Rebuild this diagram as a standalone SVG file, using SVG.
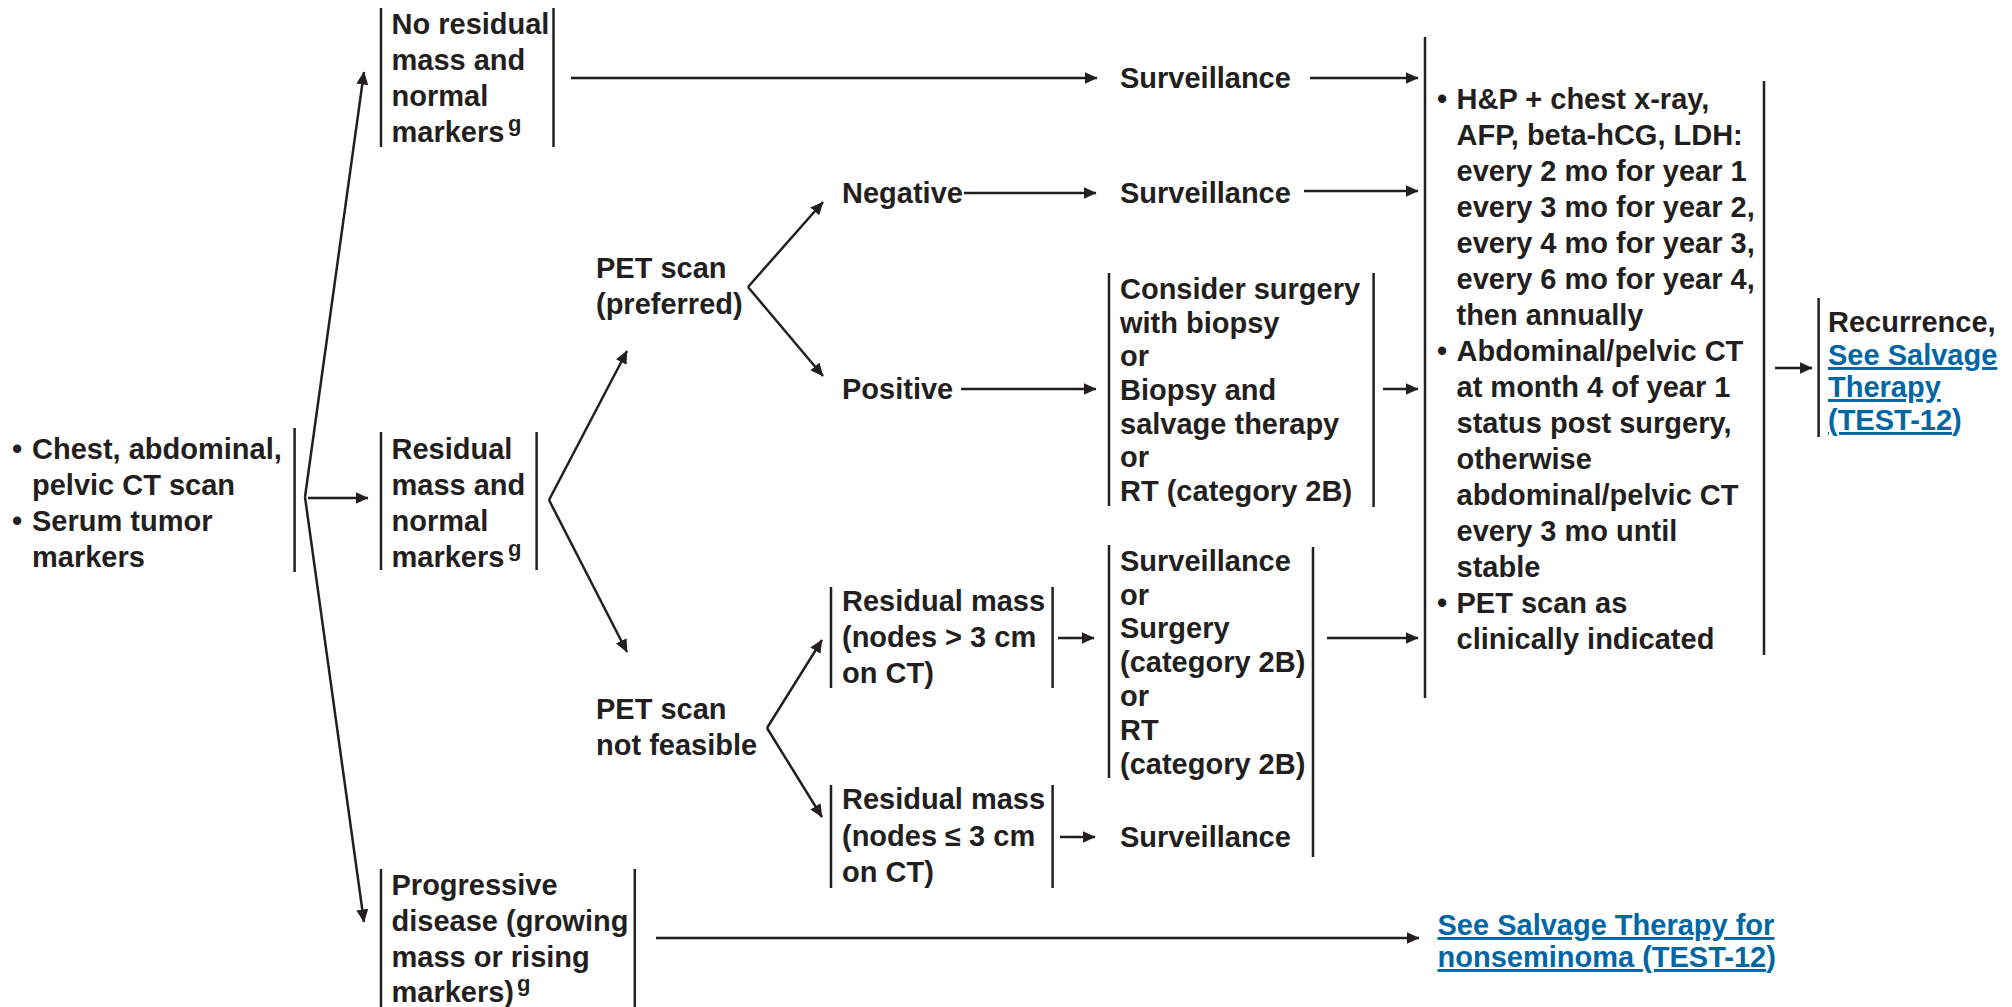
<svg xmlns="http://www.w3.org/2000/svg" width="2012" height="1007" viewBox="0 0 2012 1007">
<style>
text{font-family:"Liberation Sans",Arial,Helvetica,sans-serif;font-weight:bold;font-size:29px;fill:#231f20}
.sup{font-size:22px}
.link{fill:#0066a4}
.u{text-decoration:underline}
.bar{stroke:#231f20;stroke-width:2.5;fill:none}
.c{stroke:#231f20;stroke-width:2.5;fill:none;marker-end:url(#ah)}
</style>
<defs>
<marker id="ah" markerUnits="userSpaceOnUse" markerWidth="14" markerHeight="13" refX="12.5" refY="6" orient="auto">
<path d="M0,0 L13,6 L0,12 z" fill="#231f20"/>
</marker>
</defs>
<rect width="2012" height="1007" fill="#fff"/>

<g id="connectors">
<path class="c" d="M305,497 L364,72"/>
<path class="c" d="M305,497 L364,922"/>
<path class="c" d="M308,498 L368,498"/>
<path class="c" d="M549,500 L627,351"/>
<path class="c" d="M549,500 L627,652"/>
<path class="c" d="M748,287 L823,202"/>
<path class="c" d="M748,287 L823,376"/>
<path class="c" d="M571,78 L1097,78"/>
<path class="c" d="M964,193 L1096,193"/>
<path class="c" d="M961,389 L1096,389"/>
<path class="c" d="M1310,78 L1418,78"/>
<path class="c" d="M1304,191 L1418,191"/>
<path class="c" d="M1383,389 L1418,389"/>
<path class="c" d="M1327,638 L1418,638"/>
<path class="c" d="M1775,368 L1812,368"/>
<path class="c" d="M767,728 L822,640"/>
<path class="c" d="M767,728 L822,817"/>
<path class="c" d="M1058,638 L1094,638"/>
<path class="c" d="M1060,837 L1095,837"/>
<path class="c" d="M656,938 L1419,938"/>
</g>

<g id="start">
<line class="bar" x1="294.6" y1="428" x2="294.6" y2="572"/>
<text x="12" y="459">•</text>
<text x="32" y="459">Chest, abdominal,</text>
<text x="32" y="495">pelvic CT scan</text>
<text x="12" y="531">•</text>
<text x="32" y="531">Serum tumor</text>
<text x="32" y="567">markers</text>
</g>

<g id="no-residual">
<line class="bar" x1="381" y1="8" x2="381" y2="147"/>
<line class="bar" x1="553.5" y1="8" x2="553.5" y2="147"/>
<text x="391.5" y="34">No residual</text>
<text x="391.5" y="70">mass and</text>
<text x="391.5" y="106">normal</text>
<text x="391.5" y="142">markers</text>
<text class="sup" x="508" y="131">g</text>
</g>

<g id="residual">
<line class="bar" x1="381" y1="432" x2="381" y2="570"/>
<line class="bar" x1="536.6" y1="432" x2="536.6" y2="570"/>
<text x="391.5" y="459">Residual</text>
<text x="391.5" y="495">mass and</text>
<text x="391.5" y="531">normal</text>
<text x="391.5" y="567">markers</text>
<text class="sup" x="508" y="556">g</text>
</g>

<g id="progressive">
<line class="bar" x1="381" y1="869" x2="381" y2="1007"/>
<line class="bar" x1="634.8" y1="869" x2="634.8" y2="1007"/>
<text x="391.5" y="895">Progressive</text>
<text x="391.5" y="931">disease (growing</text>
<text x="391.5" y="967">mass or rising</text>
<text x="391.5" y="1002">markers)</text>
<text class="sup" x="517" y="991">g</text>
</g>

<g id="surveillance-1">
<text x="1120" y="88">Surveillance</text>
</g>

<g id="pet-preferred">
<text x="596" y="278">PET scan</text>
<text x="596" y="314">(preferred)</text>
</g>

<g id="negative">
<text x="842" y="203">Negative</text>
</g>

<g id="surveillance-2">
<text x="1120" y="203">Surveillance</text>
</g>

<g id="positive">
<text x="842" y="399">Positive</text>
</g>

<g id="consider">
<line class="bar" x1="1109" y1="273" x2="1109" y2="506"/>
<line class="bar" x1="1373.6" y1="273" x2="1373.6" y2="507"/>
<text x="1120" y="299">Consider surgery</text>
<text x="1120" y="333">with biopsy</text>
<text x="1120" y="366">or</text>
<text x="1120" y="400">Biopsy and</text>
<text x="1120" y="434">salvage therapy</text>
<text x="1120" y="467">or</text>
<text x="1120" y="501">RT (category 2B)</text>
</g>

<g id="pet-not-feasible">
<text x="596" y="719">PET scan</text>
<text x="596" y="755">not feasible</text>
</g>

<g id="residual-gt3">
<line class="bar" x1="831" y1="587" x2="831" y2="688"/>
<line class="bar" x1="1052.6" y1="587" x2="1052.6" y2="688"/>
<text x="842" y="611">Residual mass</text>
<text x="842" y="647">(nodes &gt; 3 cm</text>
<text x="842" y="683">on CT)</text>
</g>

<g id="residual-le3">
<line class="bar" x1="831" y1="785" x2="831" y2="888"/>
<line class="bar" x1="1052.6" y1="785" x2="1052.6" y2="888"/>
<text x="842" y="809">Residual mass</text>
<text x="842" y="846">(nodes ≤ 3 cm</text>
<text x="842" y="882">on CT)</text>
</g>

<g id="options">
<line class="bar" x1="1109" y1="545" x2="1109" y2="778"/>
<line class="bar" x1="1313" y1="547" x2="1313" y2="857"/>
<text x="1120" y="571">Surveillance</text>
<text x="1120" y="605">or</text>
<text x="1120" y="638">Surgery</text>
<text x="1120" y="672">(category 2B)</text>
<text x="1120" y="706">or</text>
<text x="1120" y="740">RT</text>
<text x="1120" y="774">(category 2B)</text>
<text x="1120" y="847">Surveillance</text>
</g>

<g id="followup">
<line class="bar" x1="1425" y1="37" x2="1425" y2="698"/>
<line class="bar" x1="1764" y1="81" x2="1764" y2="655"/>
<text x="1437" y="109">•</text>
<text x="1456.5" y="109">H&amp;P + chest x-ray,</text>
<text x="1456.5" y="145">AFP, beta-hCG, LDH:</text>
<text x="1456.5" y="181">every 2 mo for year 1</text>
<text x="1456.5" y="217">every 3 mo for year 2,</text>
<text x="1456.5" y="253">every 4 mo for year 3,</text>
<text x="1456.5" y="289">every 6 mo for year 4,</text>
<text x="1456.5" y="325">then annually</text>
<text x="1437" y="361">•</text>
<text x="1456.5" y="361">Abdominal/pelvic CT</text>
<text x="1456.5" y="397">at month 4 of year 1</text>
<text x="1456.5" y="433">status post surgery,</text>
<text x="1456.5" y="469">otherwise</text>
<text x="1456.5" y="505">abdominal/pelvic CT</text>
<text x="1456.5" y="541">every 3 mo until</text>
<text x="1456.5" y="577">stable</text>
<text x="1437" y="613">•</text>
<text x="1456.5" y="613">PET scan as</text>
<text x="1456.5" y="649">clinically indicated</text>
</g>

<g id="recurrence">
<line class="bar" x1="1818.6" y1="298" x2="1818.6" y2="437"/>
<text x="1828" y="332">Recurrence,</text>
<text class="link u" x="1828" y="365">See Salvage</text>
<text class="link u" x="1828" y="397">Therapy</text>
<text class="link" x="1828" y="430"><tspan class="u">(TEST-12</tspan>)</text>
</g>

<g id="salvage">
<text class="link u" x="1437.5" y="935">See Salvage Therapy for</text>
<text class="link" x="1437.5" y="967"><tspan class="u">nonseminoma (TEST-12</tspan>)</text>
</g>
</svg>
